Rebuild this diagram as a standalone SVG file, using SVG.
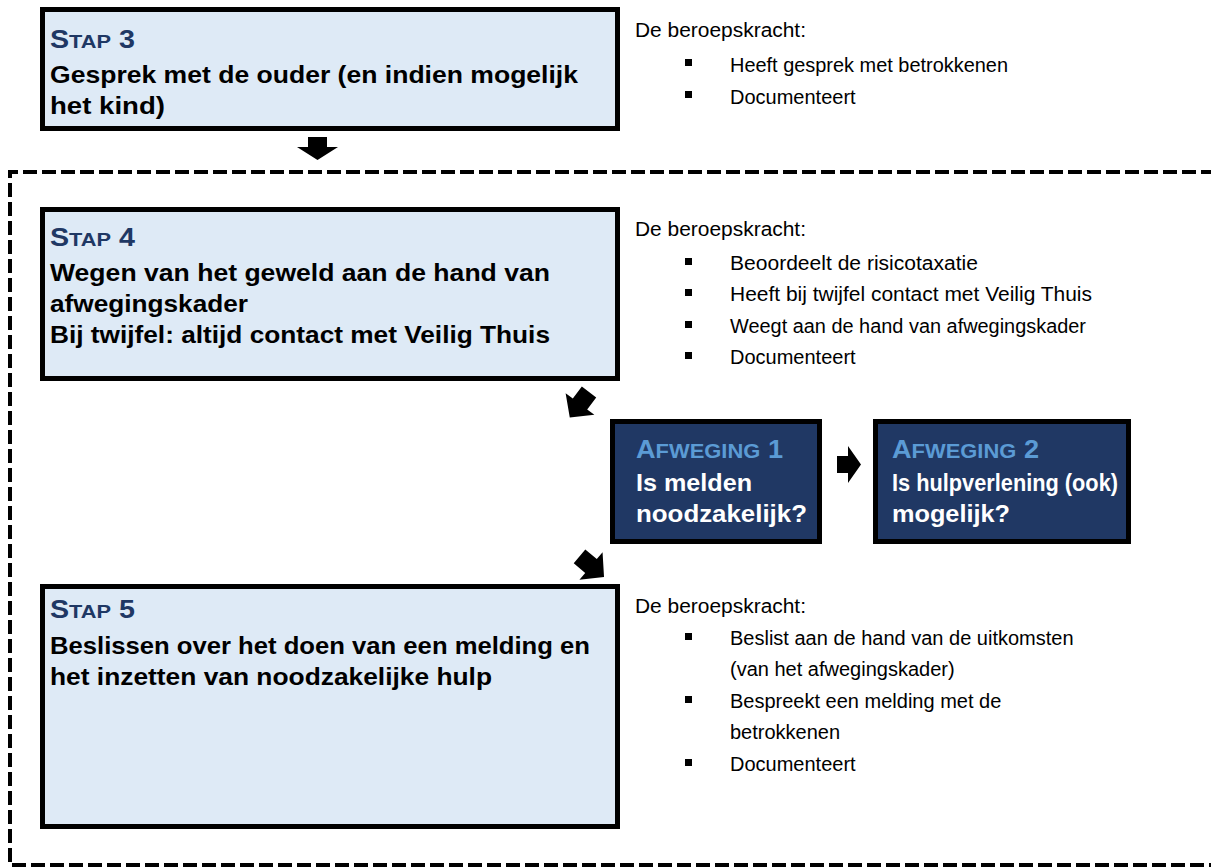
<svg xmlns="http://www.w3.org/2000/svg" width="1211" height="868" viewBox="0 0 1211 868">
<style>
.step{fill:#DEEAF6;stroke:#000;stroke-width:5}
.dark{fill:#203864;stroke:#000;stroke-width:5}
.t{font-family:"Liberation Sans",Arial,sans-serif;font-weight:bold;font-size:24.5px;fill:#000}
.w{font-family:"Liberation Sans",Arial,sans-serif;font-weight:bold;font-size:24.5px;fill:#fff}
.h{font-family:"Liberation Sans",Arial,sans-serif;font-weight:bold;font-size:25px;fill:#1F3864}
.h2{font-family:"Liberation Sans",Arial,sans-serif;font-weight:bold;font-size:26px;fill:#5B9BD5}
.sc{font-size:19px}
.sc2{font-size:21px}
.r{font-family:"Liberation Sans",Arial,sans-serif;font-size:20px;fill:#000}
.b{fill:#000}
.arr{fill:#000}
</style>
<defs>
<path id="ba" d="M-15,-9 H0 V-18 L17,0 L0,18 V9 H-15 Z"/>
</defs>
<g id="frame">
<path d="M1215,172 H10 V865 H1215" fill="none" stroke="#000" stroke-width="4" stroke-dasharray="14 5"/>
</g>
<g id="stap3">
<rect class="step" x="42.5" y="9.5" width="575" height="119"/>
<text class="h" x="50" y="48" textLength="85" lengthAdjust="spacingAndGlyphs">S<tspan class="sc">TAP</tspan> 3</text>
<text class="t" x="50" y="83" textLength="528" lengthAdjust="spacingAndGlyphs">Gesprek met de ouder (en indien mogelijk</text>
<text class="t" x="50" y="114" textLength="115" lengthAdjust="spacingAndGlyphs">het kind)</text>
</g>
<g id="list3">
<text class="r" x="635" y="37" textLength="171" lengthAdjust="spacingAndGlyphs">De beroepskracht:</text>
<rect class="b" x="685" y="59" width="7" height="7"/>
<text class="r" x="730" y="72" textLength="278" lengthAdjust="spacingAndGlyphs">Heeft gesprek met betrokkenen</text>
<rect class="b" x="685" y="91" width="7" height="7"/>
<text class="r" x="730" y="104">Documenteert</text>
</g>
<g id="stap4">
<rect class="step" x="42.5" y="209.5" width="575" height="169"/>
<text class="h" x="50" y="246" textLength="85" lengthAdjust="spacingAndGlyphs">S<tspan class="sc">TAP</tspan> 4</text>
<text class="t" x="50" y="281" textLength="500" lengthAdjust="spacingAndGlyphs">Wegen van het geweld aan de hand van</text>
<text class="t" x="50" y="312" textLength="198" lengthAdjust="spacingAndGlyphs">afwegingskader</text>
<text class="t" x="50" y="343" textLength="500" lengthAdjust="spacingAndGlyphs">Bij twijfel: altijd contact met Veilig Thuis</text>
</g>
<g id="list4">
<text class="r" x="635" y="236" textLength="171" lengthAdjust="spacingAndGlyphs">De beroepskracht:</text>
<rect class="b" x="685" y="258" width="7" height="7"/>
<text class="r" x="730" y="270" textLength="248" lengthAdjust="spacingAndGlyphs">Beoordeelt de risicotaxatie</text>
<rect class="b" x="685" y="289" width="7" height="7"/>
<text class="r" x="730" y="301" textLength="362" lengthAdjust="spacingAndGlyphs">Heeft bij twijfel contact met Veilig Thuis</text>
<rect class="b" x="685" y="321" width="7" height="7"/>
<text class="r" x="730" y="333" textLength="356" lengthAdjust="spacingAndGlyphs">Weegt aan de hand van afwegingskader</text>
<rect class="b" x="685" y="352" width="7" height="7"/>
<text class="r" x="730" y="364">Documenteert</text>
</g>
<g id="afweging1">
<rect class="dark" x="612.5" y="421.5" width="207" height="120"/>
<text class="h2" x="636" y="458" textLength="147" lengthAdjust="spacingAndGlyphs">A<tspan class="sc2">FWEGING</tspan> 1</text>
<text class="w" x="636" y="491" textLength="116" lengthAdjust="spacingAndGlyphs">Is melden</text>
<text class="w" x="636" y="522" textLength="171" lengthAdjust="spacingAndGlyphs">noodzakelijk?</text>
</g>
<g id="afweging2">
<rect class="dark" x="875.5" y="421.5" width="253" height="120"/>
<text class="h2" x="892" y="458" textLength="147" lengthAdjust="spacingAndGlyphs">A<tspan class="sc2">FWEGING</tspan> 2</text>
<text class="w" x="892" y="491" textLength="226" lengthAdjust="spacingAndGlyphs">Is hulpverlening (ook)</text>
<text class="w" x="892" y="522" textLength="118" lengthAdjust="spacingAndGlyphs">mogelijk?</text>
</g>
<g id="stap5">
<rect class="step" x="42.5" y="586.5" width="575" height="240"/>
<text class="h" x="50" y="618" textLength="85" lengthAdjust="spacingAndGlyphs">S<tspan class="sc">TAP</tspan> 5</text>
<text class="t" x="50" y="654" textLength="540" lengthAdjust="spacingAndGlyphs">Beslissen over het doen van een melding en</text>
<text class="t" x="50" y="685" textLength="442" lengthAdjust="spacingAndGlyphs">het inzetten van noodzakelijke hulp</text>
</g>
<g id="list5">
<text class="r" x="635" y="613" textLength="171" lengthAdjust="spacingAndGlyphs">De beroepskracht:</text>
<rect class="b" x="685" y="633" width="7" height="7"/>
<text class="r" x="730" y="645">Beslist aan de hand van de uitkomsten</text>
<text class="r" x="730" y="676">(van het afwegingskader)</text>
<rect class="b" x="685" y="696" width="7" height="7"/>
<text class="r" x="730" y="708">Bespreekt een melding met de</text>
<text class="r" x="730" y="739">betrokkenen</text>
<rect class="b" x="685" y="759" width="7" height="7"/>
<text class="r" x="730" y="771">Documenteert</text>
</g>
<g id="connectors">
<path class="arr" d="M308,137 H327 V147 H338 L317.5,160 L297,147 H308 Z"/>
<use href="#ba" class="arr" transform="translate(580,404) rotate(127)"/>
<path class="arr" d="M837,456 H848 V446 L861,464.5 L848,483 V473 H837 Z"/>
<use href="#ba" class="arr" transform="translate(591,566) rotate(40)"/>
</g>
</svg>
